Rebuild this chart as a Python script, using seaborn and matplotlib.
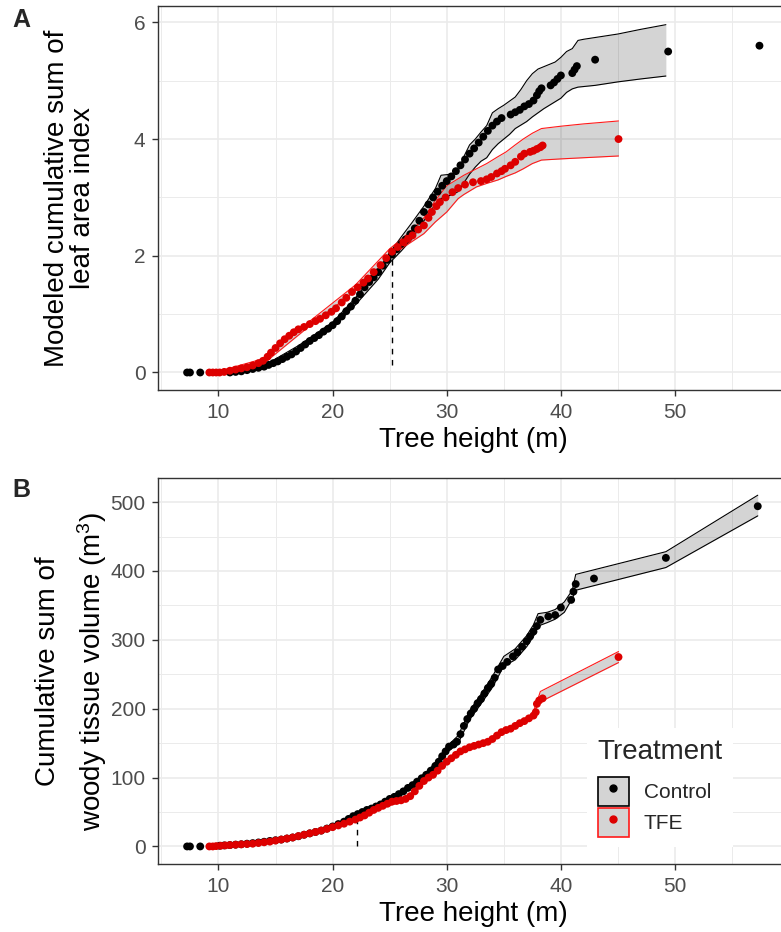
import numpy as np
import pandas as pd
import matplotlib
matplotlib.use("Agg")
import matplotlib.pyplot as plt
import seaborn as sns
from matplotlib.patches import Patch
from matplotlib.lines import Line2D
from matplotlib.legend_handler import HandlerTuple

# ---------------- data ----------------
# Panel A: modeled cumulative sum of leaf area index
ctrl_lai_h = [7.25, 7.5, 8.4, 11.0, 11.5, 12.0, 12.5, 13.0, 13.5, 14.0, 14.4, 14.8, 15.2, 15.6, 16.0,
              16.4, 16.8, 17.2, 17.6, 18.0, 18.4, 18.8, 19.2, 19.6, 20.0, 20.4, 20.8, 21.2, 21.6, 22.0,
              22.4, 22.8, 23.2, 23.6, 24.0, 24.4, 24.8, 25.2, 25.6, 26.0, 26.4, 26.8, 27.2, 27.6, 28.0,
              28.4, 28.8, 29.2, 29.6, 30.0, 30.4, 30.8, 31.2, 31.6, 32.0, 32.4, 32.8, 33.2, 33.6, 34.0,
              34.4, 34.8, 35.6, 36.0, 36.4, 36.8, 37.2, 37.6, 37.9, 38.1, 38.3, 39.1, 39.4, 39.7, 40.0,
              41.0, 41.2, 41.4, 43.0, 49.4, 57.4]
ctrl_lai_v = [0.0, 0.0, 0.0, 0.0, 0.01, 0.02, 0.04, 0.06, 0.08, 0.10, 0.13, 0.16, 0.19, 0.23, 0.27,
              0.31, 0.36, 0.42, 0.48, 0.54, 0.59, 0.64, 0.70, 0.75, 0.81, 0.88, 0.96, 1.05, 1.13, 1.23,
              1.34, 1.46, 1.55, 1.63, 1.72, 1.83, 1.93, 2.02, 2.11, 2.20, 2.28, 2.37, 2.47, 2.60, 2.75,
              2.88, 3.00, 3.10, 3.20, 3.28, 3.36, 3.45, 3.55, 3.65, 3.75, 3.84, 3.94, 4.04, 4.14, 4.23,
              4.30, 4.36, 4.42, 4.46, 4.50, 4.56, 4.60, 4.66, 4.75, 4.82, 4.87, 4.92, 4.97, 5.03, 5.09,
              5.13, 5.19, 5.25, 5.36, 5.50, 5.60]
tfe_lai_h = [9.2, 9.5, 9.8, 10.1, 10.5, 11.0, 11.5, 12.0, 12.5, 13.0, 13.5, 13.9, 14.3, 14.6, 15.0,
             15.4, 15.8, 16.2, 16.6, 17.0, 17.5, 18.0, 18.5, 18.9, 19.4, 19.9, 20.3, 20.8, 21.2, 21.7,
             22.2, 22.7, 23.1, 23.6, 24.2, 24.7, 25.2, 25.7, 26.2, 26.6, 27.0, 27.5, 28.0, 28.4, 28.7,
             29.1, 29.4, 29.9, 30.5, 31.0, 31.6, 32.3, 33.0, 33.5, 33.9, 34.4, 34.8, 35.1, 35.6, 36.0,
             36.5, 36.8, 37.3, 37.6, 37.9, 38.2, 38.4, 45.05]
tfe_lai_v = [0.0, 0.0, 0.0, 0.0, 0.01, 0.03, 0.05, 0.07, 0.09, 0.12, 0.16, 0.20, 0.27, 0.34, 0.42,
             0.50, 0.57, 0.63, 0.69, 0.74, 0.78, 0.83, 0.88, 0.92, 0.98, 1.04, 1.10, 1.20, 1.28, 1.38,
             1.46, 1.54, 1.61, 1.72, 1.84, 1.96, 2.07, 2.15, 2.23, 2.29, 2.35, 2.45, 2.52, 2.65, 2.75,
             2.85, 2.92, 3.00, 3.09, 3.16, 3.22, 3.26, 3.28, 3.31, 3.35, 3.41, 3.45, 3.49, 3.55, 3.61,
             3.70, 3.75, 3.78, 3.80, 3.83, 3.86, 3.89, 4.00]

# Panel A confidence bands
ctrl_lai_band_h = [11, 14, 17, 20, 22, 24, 25, 26, 27, 28, 29, 29.5, 30.5, 31.0, 31.5, 32.0, 32.5, 33.0,
                   33.5, 34.0, 34.5, 35.0, 35.5, 36.0, 36.5, 37.0, 37.5, 38.0, 38.5, 39.0, 39.5, 40.0,
                   40.5, 41.0, 41.5, 42.0, 43.0, 45.0, 47.0, 49.2]
ctrl_lai_band_hi = [0.02, 0.12, 0.46, 0.86, 1.28, 1.76, 2.05, 2.32, 2.58, 2.85, 3.15, 3.38, 3.40, 3.45,
                    3.70, 3.90, 4.00, 4.12, 4.23, 4.45, 4.52, 4.58, 4.65, 4.72, 4.85, 5.00, 5.12, 5.20,
                    5.24, 5.28, 5.32, 5.40, 5.50, 5.55, 5.69, 5.71, 5.74, 5.80, 5.88, 5.96]
ctrl_lai_band_lo = [0.00, 0.06, 0.38, 0.76, 1.16, 1.60, 1.88, 2.08, 2.30, 2.60, 2.88, 2.98, 3.05, 3.10,
                    3.25, 3.40, 3.52, 3.62, 3.68, 3.82, 3.92, 4.00, 4.08, 4.18, 4.24, 4.30, 4.38, 4.45,
                    4.52, 4.58, 4.64, 4.70, 4.80, 4.86, 4.89, 4.90, 4.92, 4.98, 5.03, 5.08]
tfe_lai_band_h = [10, 14, 18, 22, 25, 26, 27, 28, 29, 30, 31, 31.5, 32.6, 33.5, 34.5, 35.2, 36.0, 36.7,
                  37.5, 38.3, 40, 42, 45.05]
tfe_lai_band_hi = [0.02, 0.24, 0.88, 1.50, 2.12, 2.28, 2.45, 2.65, 2.95, 3.20, 3.32, 3.38, 3.49, 3.58,
                   3.70, 3.78, 3.90, 4.00, 4.10, 4.18, 4.22, 4.26, 4.31]
tfe_lai_band_lo = [0.00, 0.16, 0.80, 1.40, 1.98, 2.12, 2.25, 2.38, 2.58, 2.75, 2.98, 3.05, 3.18, 3.24,
                   3.30, 3.36, 3.42, 3.49, 3.58, 3.64, 3.66, 3.68, 3.71]

# Panel B: cumulative sum of woody tissue volume (m3)
ctrl_vol_h = [7.25, 7.5, 8.4, 10.1, 10.5, 11.0, 11.5, 12.0, 12.5, 13.0, 13.5, 14.0, 14.5, 15.0, 15.5,
              16.0, 16.5, 17.0, 17.5, 18.0, 18.5, 19.0, 19.5, 20.0, 20.5, 21.0, 21.4, 21.8, 22.2, 22.6,
              23.0, 23.4, 23.8, 24.2, 24.6, 25.0, 25.4, 25.8, 26.2, 26.6, 27.0, 27.4, 27.8, 28.2, 28.6,
              29.0, 29.3, 29.6, 29.9, 30.2, 30.6, 30.9, 31.2, 31.5, 31.8, 32.1, 32.4, 32.7, 33.0, 33.3,
              33.6, 33.9, 34.2, 34.5, 34.9, 35.3, 35.8, 36.2, 36.6, 37.0, 37.3, 37.6, 37.9, 38.2, 38.9,
              39.5, 40.0, 40.9, 41.1, 41.3, 42.9, 49.2, 57.25]
ctrl_vol_v = [0, 0, 0, 1, 1.5, 2, 2.6, 3.2, 4, 4.8, 5.8, 6.8, 8, 9, 10,
              11.5, 13, 14.8, 17, 19, 21, 23, 26, 29, 32.5, 36, 40, 44, 47, 50,
              53, 55, 58, 61, 65, 69, 72, 76, 80, 85, 89, 94, 99, 104, 110,
              117, 123, 131, 138, 145, 148, 152, 163, 175, 185, 193, 200, 208, 214, 222,
              230, 236, 245, 257, 262, 268, 276, 282, 290, 298, 305, 312, 320, 329, 334,
              336, 347, 358, 370, 381, 389, 419, 494]
tfe_vol_h = [9.2, 9.5, 9.8, 10.2, 10.6, 11.0, 11.5, 12.0, 12.5, 13.0, 13.5, 14.0, 14.5, 15.0, 15.5,
             16.0, 16.5, 17.0, 17.5, 18.0, 18.5, 19.0, 19.5, 20.0, 20.5, 21.0, 21.5, 22.0, 22.4, 22.8,
             23.2, 23.6, 24.0, 24.4, 24.8, 25.2, 25.6, 26.0, 26.4, 26.8, 27.2, 27.6, 28.0, 28.4, 28.8,
             29.2, 29.6, 30.0, 30.4, 30.8, 31.2, 31.6, 32.0, 32.4, 32.8, 33.2, 33.6, 34.0, 34.4, 34.8,
             35.2, 35.6, 36.0, 36.4, 36.8, 37.2, 37.6, 37.8, 37.9, 38.1, 38.4, 45.05]
tfe_vol_v = [0, 0, 0.5, 1, 1.5, 2, 2.5, 3, 3.5, 4, 5, 6, 7, 8.5, 10,
             11.5, 13, 15, 17, 19, 21, 23, 25.5, 28, 30.5, 33, 36, 39, 42, 45,
             49, 53, 56, 59, 62, 65, 66, 67, 69, 73, 80, 88, 95, 100, 104,
             110, 117, 123, 128, 133, 138, 141, 144, 146, 148, 150, 152, 156, 161, 166,
             169, 171, 175, 179, 182, 186, 190, 195, 207, 212, 215, 275]

ctrl_vol_band_h = [10, 14, 18, 20, 22, 24, 26, 28, 29, 30, 31, 32, 33, 34, 35, 36, 37, 37.6, 38.0,
                   38.8, 39.5, 40.3, 41.0, 41.3, 49.2, 57.25]
ctrl_vol_band_hi = [1.5, 7.5, 20, 30.5, 47, 61.5, 80.5, 105, 121, 145, 161, 197, 221, 247, 276, 287,
                    306, 322, 338, 340, 344, 355, 372, 395, 428, 510]
ctrl_vol_band_lo = [0.5, 6, 18, 27.5, 44, 57.5, 75.5, 98, 113, 136, 150, 184, 207, 231, 262, 271,
                    290, 305, 320, 325, 330, 340, 360, 372, 405, 480]
tfe_vol_band_h = [10, 14, 18, 20, 22, 24, 26, 27, 28, 29, 30, 31, 32, 33, 34, 35, 36, 37, 37.5, 37.9,
                  38.2, 45.05]
tfe_vol_band_hi = [1.5, 7, 20, 29.5, 40.5, 58, 69, 79, 97.5, 109.5, 125.5, 138, 146.5, 151.5, 158.5,
                   170, 177.5, 186.5, 192, 210, 225, 283]
tfe_vol_band_lo = [0.5, 5, 18, 26.5, 37.5, 54, 65, 74, 92.5, 104.5, 120.5, 133, 141.5, 146.5, 153.5,
                   165, 172.5, 181.5, 186, 204, 210, 267]

# dashed reference lines (x, y_start, y_end)
lai_ref = (25.2, 0.12, 1.95)
vol_ref = (22.1, 0.0, 35.0)

treatments = ["Control", "TFE"]
point_colors = {"Control": "#000000", "TFE": "#DD0000"}
band_colors = {"Control": "#000000", "TFE": "#FF1A1A"}

# ---------------- style ----------------
sns.set_theme(style="white")
plt.rcParams["font.family"] = ["Liberation Sans", "DejaVu Sans"]
plt.rcParams["mathtext.fontset"] = "custom"
plt.rcParams["mathtext.rm"] = "Liberation Sans"
plt.rcParams["mathtext.it"] = "Liberation Sans:italic"

fig = plt.figure(figsize=(7.81, 9.32), dpi=100)
fig.patch.set_facecolor("white")

axA = fig.add_axes([158 / 781, 1 - 390 / 932, 630 / 781, 384 / 932])
axB = fig.add_axes([158 / 781, 1 - 864 / 932, 630 / 781, 386 / 932])


def make_df(ch, cv, th, tv):
    return pd.DataFrame({
        "height": list(ch) + list(th),
        "value": list(cv) + list(tv),
        "Treatment": ["Control"] * len(ch) + ["TFE"] * len(th),
    })


def style_axis(ax, ylim, ymaj, ymin):
    ax.set_xlim(4.7, 59.9)
    ax.set_ylim(*ylim)
    ax.set_xticks([10, 20, 30, 40, 50])
    ax.set_xticks([5, 15, 25, 35, 45, 55], minor=True)
    ax.set_yticks(ymaj)
    ax.set_yticks(ymin, minor=True)
    ax.grid(True, which="major", color="#EBEBEB", lw=1.2, zorder=0)
    ax.grid(True, which="minor", color="#EBEBEB", lw=0.7, zorder=0)
    ax.set_axisbelow(True)
    for s in ax.spines.values():
        s.set_color("#333333")
        s.set_linewidth(1.0)
    ax.tick_params(which="major", length=4, width=1, color="#333333",
                   labelsize=15, labelcolor="#4D4D4D", pad=5, bottom=True, left=True)
    ax.tick_params(which="minor", length=0)
    ax.set_xlabel("Tree height (m)", fontsize=20, color="black", labelpad=4)
    ax.set_facecolor("white")


def draw_bands(ax, bands):
    for trt, (bh, lo, hi) in bands.items():
        ax.fill_between(bh, lo, hi, color="black", alpha=0.17, lw=0, zorder=2)
        ax.plot(bh, lo, color=band_colors[trt], lw=0.8, zorder=2.5)
        ax.plot(bh, hi, color=band_colors[trt], lw=0.8, zorder=2.5)


# Panel A
dfA = make_df(ctrl_lai_h, ctrl_lai_v, tfe_lai_h, tfe_lai_v)
draw_bands(axA, {"Control": (ctrl_lai_band_h, ctrl_lai_band_lo, ctrl_lai_band_hi),
                 "TFE": (tfe_lai_band_h, tfe_lai_band_lo, tfe_lai_band_hi)})
sns.scatterplot(data=dfA, x="height", y="value", hue="Treatment", hue_order=treatments,
                palette=point_colors, s=32, linewidth=0, legend=False, ax=axA, zorder=3)
axA.plot([lai_ref[0], lai_ref[0]], [lai_ref[1], lai_ref[2]], ls=(0, (4, 4)), color="black", lw=1, zorder=4)
style_axis(axA, (-0.3, 6.28), [0, 2, 4, 6], [1, 3, 5])
axA.set_ylabel("Modeled cumulative sum of\nleaf area index", fontsize=20, color="black",
               linespacing=1.0, va="center")
axA.yaxis.set_label_coords((70 - 158) / 630, 0.5)

# Panel B
dfB = make_df(ctrl_vol_h, ctrl_vol_v, tfe_vol_h, tfe_vol_v)
draw_bands(axB, {"Control": (ctrl_vol_band_h, ctrl_vol_band_lo, ctrl_vol_band_hi),
                 "TFE": (tfe_vol_band_h, tfe_vol_band_lo, tfe_vol_band_hi)})
sns.scatterplot(data=dfB, x="height", y="value", hue="Treatment", hue_order=treatments,
                palette=point_colors, s=32, linewidth=0, legend=False, ax=axB, zorder=3)
axB.plot([vol_ref[0], vol_ref[0]], [vol_ref[1], vol_ref[2]], ls=(0, (4, 4)), color="black", lw=1, zorder=4)
style_axis(axB, (-25.5, 535), [0, 100, 200, 300, 400, 500], [50, 150, 250, 350, 450])
axB.set_ylabel("Cumulative sum of\nwoody tissue volume (m$^3$)", fontsize=20, color="black",
               linespacing=1.55, va="center")
axB.yaxis.set_label_coords((72 - 158) / 630, 0.5)

# Panel tags
fig.text(12 / 781, 1 - 8 / 932, "A", fontsize=18, fontweight="bold", va="top", ha="left")
fig.text(12 / 781, 1 - 478 / 932, "B", fontsize=18, fontweight="bold", va="top", ha="left")

# Legend
handles = []
for trt in treatments:
    p = Patch(facecolor="#D4D4D4", edgecolor=band_colors[trt], lw=1.2)
    m = Line2D([], [], marker="o", ls="none", color=point_colors[trt], markersize=5)
    handles.append((p, m))
leg = axB.legend(handles, treatments, handler_map={tuple: HandlerTuple(ndivide=1, pad=0)},
                 title="Treatment", loc="upper left",
                 bbox_to_anchor=(577 / 781, 1 - 718 / 932), bbox_transform=fig.transFigure,
                 fontsize=15, title_fontsize=20, frameon=True, framealpha=1, facecolor="white",
                 edgecolor="none", fancybox=False, handlelength=1.5, handleheight=1.75,
                 handletextpad=0.7, labelspacing=0.1, borderpad=0.5, alignment="left")
leg._legend_box.sep = 9
leg.set_zorder(10)

fig.savefig("out.png", dpi=100, facecolor="white")
